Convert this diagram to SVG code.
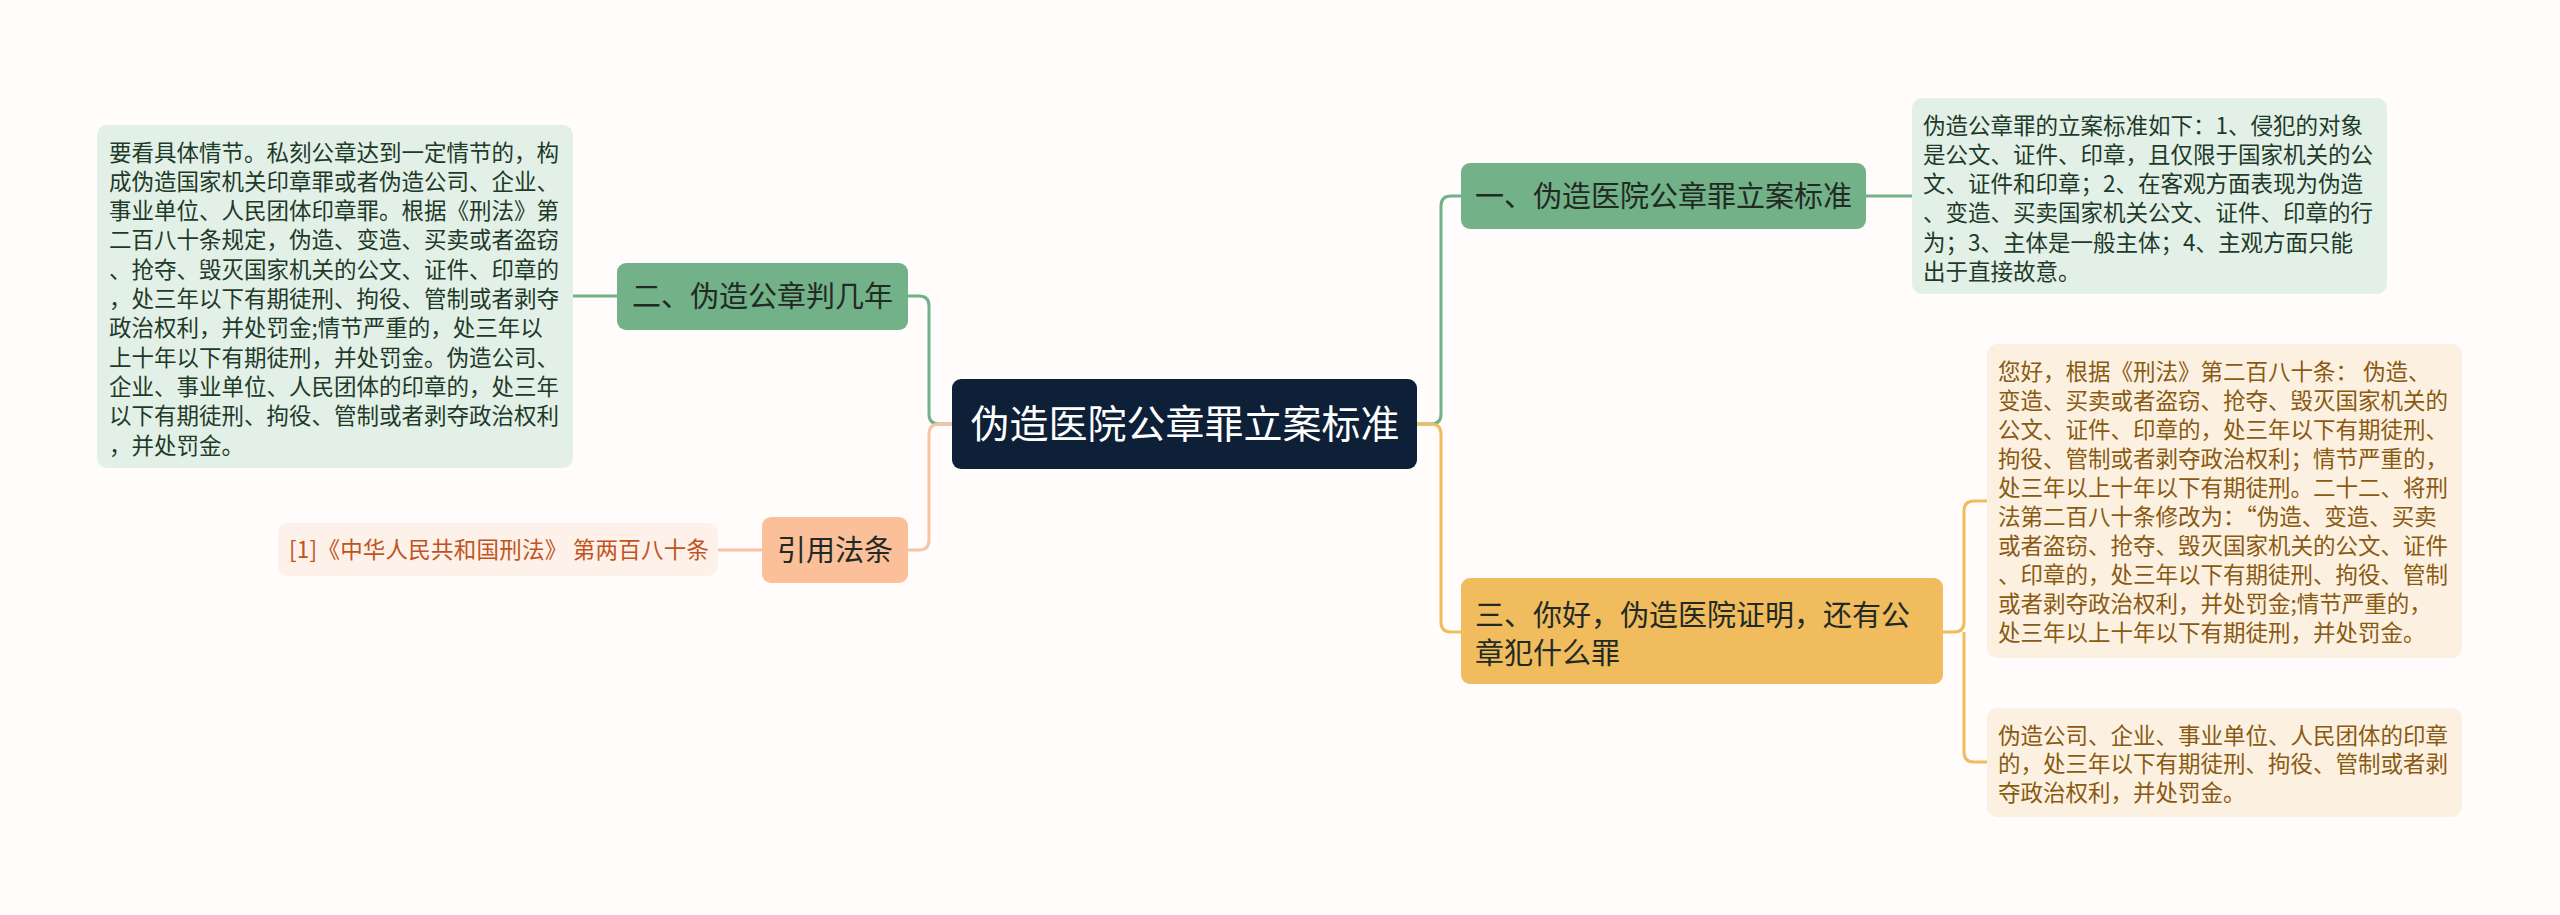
<svg xmlns="http://www.w3.org/2000/svg" width="2560" height="915" viewBox="0 0 2560 915">
<style>
text{font-family:"Noto Sans CJK SC","Noto Sans",sans-serif}
.t22{font-size:22.5px}
.t29{font-size:29px}
.gtxt{fill:#1e3a28}
.otxt{fill:#8a5a12}
.dark{fill:#222a24}
.ln{fill:none;stroke-width:3}
.g{stroke:#73b189}
.o{stroke:#f0bc5e}
.s{stroke:#f8c4a4}
</style>
<rect width="2560" height="915" fill="#fffcfb"/>
<g id="connectors">
<path class="ln g" d="M1417,424 L1431,424 Q1441,424 1441,414 L1441,206 Q1441,196 1451,196 L1461,196"/>
<path class="ln o" d="M1417,424 L1431,424 Q1441,424 1441,434 L1441,622 Q1441,632 1451,632 L1461,632"/>
<path class="ln g" d="M952,424 L939,424 Q929,424 929,414 L929,306 Q929,296 919,296 L908,296"/>
<path class="ln s" d="M952,424 L939,424 Q929,424 929,434 L929,540 Q929,550 919,550 L908,550"/>
<path class="ln g" d="M1866,196 L1912,196"/>
<path class="ln g" d="M617,296 L573,296"/>
<path class="ln s" d="M762,550 L718,550"/>
<path class="ln o" d="M1943,632 L1954,632 Q1964,632 1964,622 L1964,511 Q1964,501 1974,501 L1987,501"/>
<path class="ln o" d="M1964,632 L1964,752 Q1964,762 1974,762 L1987,762"/>
</g>
<g id="center">
<rect x="952" y="379" width="465" height="90" rx="9" fill="#0e1f38"/>
<text x="1185" y="438" font-size="39" fill="#ffffff" text-anchor="middle">伪造医院公章罪立案标准</text>
</g>
<g id="branch1">
<rect x="1461" y="163" width="405" height="66" rx="9" fill="#73b189"/>
<text x="1475" y="207" class="t29 dark">一、伪造医院公章罪立案标准</text>
</g>
<g id="branch1-text">
<rect x="1912" y="98" width="475" height="196" rx="10" fill="#e3f0e7"/>
<text class="t22 gtxt" x="1923">
<tspan x="1923" y="133.5">伪造公章罪的立案标准如下：1、侵犯的对象</tspan>
<tspan x="1923" y="162.8">是公文、证件、印章，且仅限于国家机关的公</tspan>
<tspan x="1923" y="192.1">文、证件和印章；2、在客观方面表现为伪造</tspan>
<tspan x="1923" y="221.4">、变造、买卖国家机关公文、证件、印章的行</tspan>
<tspan x="1923" y="250.7">为；3、主体是一般主体；4、主观方面只能</tspan>
<tspan x="1923" y="280">出于直接故意。</tspan>
</text>
</g>
<g id="branch2">
<rect x="617" y="263" width="291" height="67" rx="9" fill="#73b189"/>
<text x="632" y="307" class="t29 dark">二、伪造公章判几年</text>
</g>
<g id="branch2-text">
<rect x="97" y="125" width="476" height="343" rx="10" fill="#e3f0e7"/>
<text class="t22 gtxt">
<tspan x="109" y="160.5">要看具体情节。私刻公章达到一定情节的，构</tspan>
<tspan x="109" y="189.8">成伪造国家机关印章罪或者伪造公司、企业、</tspan>
<tspan x="109" y="219.1">事业单位、人民团体印章罪。根据《刑法》第</tspan>
<tspan x="109" y="248.4">二百八十条规定，伪造、变造、买卖或者盗窃</tspan>
<tspan x="109" y="277.7">、抢夺、毁灭国家机关的公文、证件、印章的</tspan>
<tspan x="109" y="307">，处三年以下有期徒刑、拘役、管制或者剥夺</tspan>
<tspan x="109" y="336.3">政治权利，并处罚金;情节严重的，处三年以</tspan>
<tspan x="109" y="365.6">上十年以下有期徒刑，并处罚金。伪造公司、</tspan>
<tspan x="109" y="394.9">企业、事业单位、人民团体的印章的，处三年</tspan>
<tspan x="109" y="424.2">以下有期徒刑、拘役、管制或者剥夺政治权利</tspan>
<tspan x="109" y="453.5">，并处罚金。</tspan>
</text>
</g>
<g id="branch3">
<rect x="1461" y="578" width="482" height="106" rx="9" fill="#f0bc5e"/>
<text class="t29 dark">
<tspan x="1475" y="626">三、你好，伪造医院证明，还有公</tspan>
<tspan x="1475" y="663.5">章犯什么罪</tspan>
</text>
</g>
<g id="branch3-text1">
<rect x="1987" y="344" width="475" height="314" rx="10" fill="#fcf1e1"/>
<text class="t22 otxt">
<tspan x="1998" y="379.5">您好，根据《刑法》第二百八十条： 伪造、</tspan>
<tspan x="1998" y="408.6">变造、买卖或者盗窃、抢夺、毁灭国家机关的</tspan>
<tspan x="1998" y="437.7">公文、证件、印章的，处三年以下有期徒刑、</tspan>
<tspan x="1998" y="466.8">拘役、管制或者剥夺政治权利；情节严重的，</tspan>
<tspan x="1998" y="495.9">处三年以上十年以下有期徒刑。二十二、将刑</tspan>
<tspan x="1998" y="525">法第二百八十条修改为：“伪造、变造、买卖</tspan>
<tspan x="1998" y="554.1">或者盗窃、抢夺、毁灭国家机关的公文、证件</tspan>
<tspan x="1998" y="583.2">、印章的，处三年以下有期徒刑、拘役、管制</tspan>
<tspan x="1998" y="612.3">或者剥夺政治权利，并处罚金;情节严重的，</tspan>
<tspan x="1998" y="641.4">处三年以上十年以下有期徒刑，并处罚金。</tspan>
</text>
</g>
<g id="branch3-text2">
<rect x="1987" y="708" width="475" height="109" rx="10" fill="#fcf1e1"/>
<text class="t22 otxt">
<tspan x="1998" y="743.5">伪造公司、企业、事业单位、人民团体的印章</tspan>
<tspan x="1998" y="772.3">的，处三年以下有期徒刑、拘役、管制或者剥</tspan>
<tspan x="1998" y="801.1">夺政治权利，并处罚金。</tspan>
</text>
</g>
<g id="branch4">
<rect x="762" y="517" width="146" height="66" rx="9" fill="#fbbf9a"/>
<text x="835" y="561" class="t29 dark" text-anchor="middle">引用法条</text>
</g>
<g id="branch4-text">
<rect x="278" y="523" width="440" height="53" rx="10" fill="#fdf1ea"/>
<text x="289" y="558" font-size="22.5" fill="#c1541e" textLength="420" lengthAdjust="spacing">[1]《中华人民共和国刑法》 第两百八十条</text>
</g>
</svg>
